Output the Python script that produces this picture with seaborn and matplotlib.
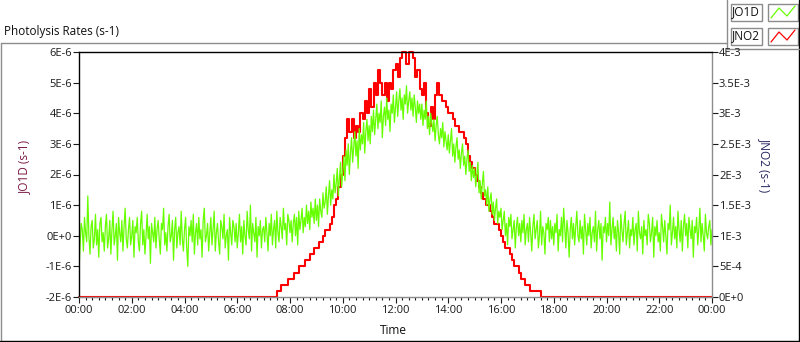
import numpy as np
import pandas as pd
import matplotlib
matplotlib.use("Agg")
import matplotlib.pyplot as plt
import seaborn as sns
from matplotlib.ticker import MultipleLocator

# JO1D, 2.5 minute readings, in units of 1E-7 s-1
jo1d_night_am = [
    -11, -3, 4, 2, -5, 6, 1, -2, 13, 0, -6, 3, 5, -4, -1, 7, -3, 2, -7, 4, 6, -2, 1, -5,
    3, 7, -4, -1, 5, -6, 2, 8, -3, 0, 4, -8, 6, 1, -2, 5, -5, 3, 9, -1, -4, 2, 6, -3,
    0, 5, -7, 3, 1, 6, -2, -5, 4, 8, -3, 2, -6, 0, 7, -1, 3, -9, 4, 1, -2, 6, -4, 2,
    5, -1, -6, 4, 2, 9, -3, 1, -5, 3, 7, -2, 0, 5, -8, 2, 6, -4, 1, 3, -3, 8, -1, -5,
    2, 6, -4, -10, 3, 0, 5, -2, 7, -6, 1, 4, -3, 6, -1, 2, -7, 5, 9, -2, 0, 4, -5, 1,
    6, -3, 2, 8, -5, 1, 4, -2, -6, 5, 3, -1, 7, -4, 0, 2, -8, 6, 1, -3, 5, 3, -2, 4,
    -4, 1, 7, -2, 3, -6, 5, 0, -3, 8, 2, -1, 10, -5, 4, 1, -2, 6, -7, 3, 0, 5, -4, 2,
    3, -2, 6, 1, -5, 4, 0, 7, -3, 2, 5, -4, 8, 1, -2, 6, 3, -1, 9, 2, 4, -3, 7, 5,
]
jo1d_day = [
    1, 5, -2, 4, 7, 0, 6, -3, 8, 2, 5, 9, 1, 6, 3, 10, 4, 8, 2, 11, 6, 9, 4, 12,
    5, 10, 3, 12, 8, 6, 14, 9, 11, 16, 7, 13, 18, 10, 15, 12, 20, 14, 17, 22, 13, 19, 24, 16,
    21, 26, 18, 28, 23, 30, 20, 27, 32, 24, 29, 34, 26, 31, 22, 35, 28, 33, 30, 37, 27, 34, 38, 31,
    36, 30, 39, 34, 41, 33, 38, 43, 35, 40, 37, 44, 32, 39, 42, 36, 45, 38, 41, 34, 43, 40, 46, 37,
    42, 47, 39, 44, 48, 41, 45, 38, 46, 43, 49, 40, 44, 47, 41, 45, 39, 46, 42, 37, 44, 40, 43, 38,
    43, 36, 41, 38, 44, 35, 39, 33, 40, 37, 34, 38, 31, 36, 39, 33, 30, 35, 32, 37, 29, 34, 31, 28,
    33, 27, 31, 35, 26, 30, 24, 29, 32, 25, 28, 22, 27, 30, 23, 26, 20, 25, 28, 21, 24, 18, 23, 19,
    22, 16, 20, 24, 14, 18, 12, 17, 21, 13, 15, 10, 16, 8, 12, 14, 7, 11, 5, 9, 12, 4, 8, 6,
    9, 2, 5, 8, 0, 4, -3, 6, 3, 7, -1, 2, 5, -4, 3, 6, 0, 4, -2, 5, 1, 7, -3, 2,
]
jo1d_night_pm = [
    4, -2, 6, 1, -5, 3, 7, -1, 2, 5, -4, 0, 8, -3, 3, 1, -6, 4, 2, 6, -2, 5, -1, 3,
    -3, 4, 1, 7, -5, 2, 0, 6, -2, 9, 3, -4, 5, 1, -7, 2, 6, -1, 4, -3, 3, 8, 0, -2,
    5, -1, 3, -6, 7, 2, -3, 4, 0, 6, -4, 1, 3, -2, 8, -5, 2, 5, -1, 4, -8, 3, 1, 6,
    -2, 4, 0, 11, -3, 2, 6, -1, 3, -5, 5, 1, -6, 7, 2, -2, 4, 8, -3, 1, 5, -4, 2, 0,
    6, -3, 2, 4, -5, 8, 1, -1, 3, -6, 5, 0, 2, -3, 7, 4, -2, 1, 6, -7, 3, 0, 5, -2,
    1, -5, 7, 3, -2, 5, 0, -6, 4, 2, 10, -3, 1, 6, -1, 3, -4, 8, 2, -2, 5, -5, 3, 7,
    0, 4, -4, 6, 2, -1, 5, -7, 3, 1, 6, -3, 2, 9, -2, 4, 0, -5, 7, 1, -1, 3, 5, -3, 2,
]

# JNO2, 5 minute readings from 07:30 to 17:30, in units of 1E-4 s-1 (zero otherwise)
jno2_start = 7.5
jno2_day = [
    1, 1, 2, 2, 2, 3,
    3, 3, 4, 4, 5, 5, 5, 6, 6, 7, 7, 8,
    8, 9, 9, 10, 11, 11, 12, 13, 15, 16, 18, 20,
    23, 26, 29, 27, 29, 26, 28, 27, 30, 29, 32, 30,
    34, 31, 35, 33, 37, 35, 33, 35, 32, 35, 34, 37,
    38, 36, 39, 40, 40, 38, 40, 40, 39, 36, 37, 34,
    33, 35, 30, 28, 31, 29, 33, 35, 33, 32, 32, 31,
    30, 30, 29, 28, 28, 27, 27, 26, 25, 23, 22, 21,
    20, 19, 18, 17, 16, 15, 15, 14, 13, 12, 12, 11,
    10, 9, 8, 8, 7, 6, 5, 5, 4, 3, 3, 2,
    2, 1, 1, 1, 1, 1, 0,
]

time_ticks = [0, 2, 4, 6, 8, 10, 12, 14, 16, 18, 20, 22, 24]
time_labels = ["00:00", "02:00", "04:00", "06:00", "08:00", "10:00", "12:00",
               "14:00", "16:00", "18:00", "20:00", "22:00", "00:00"]
jo1d_ticks = [-2e-6, -1e-6, 0, 1e-6, 2e-6, 3e-6, 4e-6, 5e-6, 6e-6]
jo1d_labels = ["-2E-6", "-1E-6", "0E+0", "1E-6", "2E-6", "3E-6", "4E-6", "5E-6", "6E-6"]
jno2_ticks = [0, 5e-4, 1e-3, 1.5e-3, 2e-3, 2.5e-3, 3e-3, 3.5e-3, 4e-3]
jno2_labels = ["0E+0", "5E-4", "1E-3", "1.5E-3", "2E-3", "2.5E-3", "3E-3", "3.5E-3", "4E-3"]

jo1d = np.array(jo1d_night_am + jo1d_day + jo1d_night_pm) * 1e-7
df_o1d = pd.DataFrame({"time": np.linspace(0, 24, len(jo1d)), "JO1D": jo1d})

jno2_t = np.concatenate([[0], jno2_start + np.arange(len(jno2_day)) / 12, [24]])
jno2_v = np.concatenate([[0], jno2_day, [0]]) * 1e-4
df_no2 = pd.DataFrame({"time": jno2_t, "JNO2": jno2_v})

sns.set_theme(style="ticks")
plt.rcParams["font.family"] = ["Open Sans", "DejaVu Sans"]

W, H = 800, 342
fig = plt.figure(figsize=(W / 100, H / 100), dpi=100)

# panel frame and legend boxes, drawn in pixel coords
frame = fig.add_axes([0, 0, 1, 1])
frame.set_xlim(0, W)
frame.set_ylim(H, 0)
frame.axis("off")
gray = "#8c8c8c"
frame.plot([0.5, 727], [42.5, 42.5], color=gray, lw=1)
frame.plot([0.5, 0.5], [42.5, H], color=gray, lw=1)
frame.plot([0, W], [340.5, 340.5], color="black", lw=1)
frame.plot([798.5, 798.5], [0, H], color="black", lw=1)
frame.plot([727, 727], [0, 49], color=gray, lw=1)
frame.plot([727, 799], [49, 49], color=gray, lw=1)
for y0, name, col in [(3, "JO1D", "#66ff00"), (27, "JNO2", "#ff0000")]:
    frame.add_patch(plt.Rectangle((730.5, y0 + 0.5), 31, 17, fill=False, ec=gray, lw=1))
    frame.add_patch(plt.Rectangle((767.5, y0 + 0.5), 30, 17, fill=False, ec=gray, lw=1))
    frame.text(746, y0 + 9, name, ha="center", va="center", fontsize=8.5, color="#101010")
    frame.plot([771, 779, 787, 795], [y0 + 15, y0 + 5, y0 + 13, y0 + 3], color=col, lw=0.9)

fig.text(4 / W, 1 - 31 / H, "Photolysis Rates (s-1)", ha="left", va="center",
         fontsize=8.5, color="#101010")

ax = fig.add_axes([79 / W, 1 - 297 / H, 633 / W, 245 / H])
ax2 = ax.twinx()
ax.set_zorder(ax2.get_zorder() + 1)
ax.patch.set_visible(False)
ax2.set_facecolor("white")

sns.lineplot(data=df_no2, x="time", y="JNO2", ax=ax2, color="#ff0000", lw=1.5,
             drawstyle="steps-post", clip_on=False)
sns.lineplot(data=df_o1d, x="time", y="JO1D", ax=ax, color="#66ff00", lw=0.9)

ax.set_xlim(0, 24)
ax.set_ylim(-2e-6, 6e-6)
ax2.set_ylim(0, 4e-3)

ax.set_xticks(time_ticks)
ax.set_xticklabels(time_labels)
ax.xaxis.set_minor_locator(MultipleLocator(0.25))
ax.set_yticks(jo1d_ticks)
ax.set_yticklabels(jo1d_labels)
ax2.set_yticks(jno2_ticks)
ax2.set_yticklabels(jno2_labels)

for s in ax2.spines.values():
    s.set_visible(False)
ax.spines["left"].set_color("black")
ax.spines["top"].set_color("black")
ax.spines["right"].set_color(gray)
ax.spines["bottom"].set_color(gray)
for s in ax.spines.values():
    s.set_visible(True)
    s.set_linewidth(1)

tc = "#1a1a1a"
ax.tick_params(axis="x", which="major", bottom=True, length=4, width=0.8, color=tc,
               labelsize=8, labelcolor=tc, pad=2)
ax.tick_params(axis="x", which="minor", bottom=True, length=2.5, width=0.8, color=tc)
ax.tick_params(axis="y", left=True, length=4, width=0.8, color=tc, labelsize=8,
               labelcolor=tc, pad=1)
ax2.tick_params(axis="y", right=True, length=4, width=0.8, color=tc, labelsize=8,
                labelcolor=tc, pad=1)

ax.set_xlabel("Time", fontsize=8.5, color="#101010")
ax.xaxis.set_label_coords(0.496, -0.112)
ax.set_ylabel("JO1D (s-1)", fontsize=8.5, color="#7a1a45")
ax.yaxis.set_label_coords(-0.076, 0.53)
ax2.set_ylabel("JNO2 (s-1)", fontsize=8.5, color="#262660", rotation=270, va="center")
ax2.yaxis.set_label_coords(1.084, 0.54)

fig.savefig("out.png", dpi=100)
